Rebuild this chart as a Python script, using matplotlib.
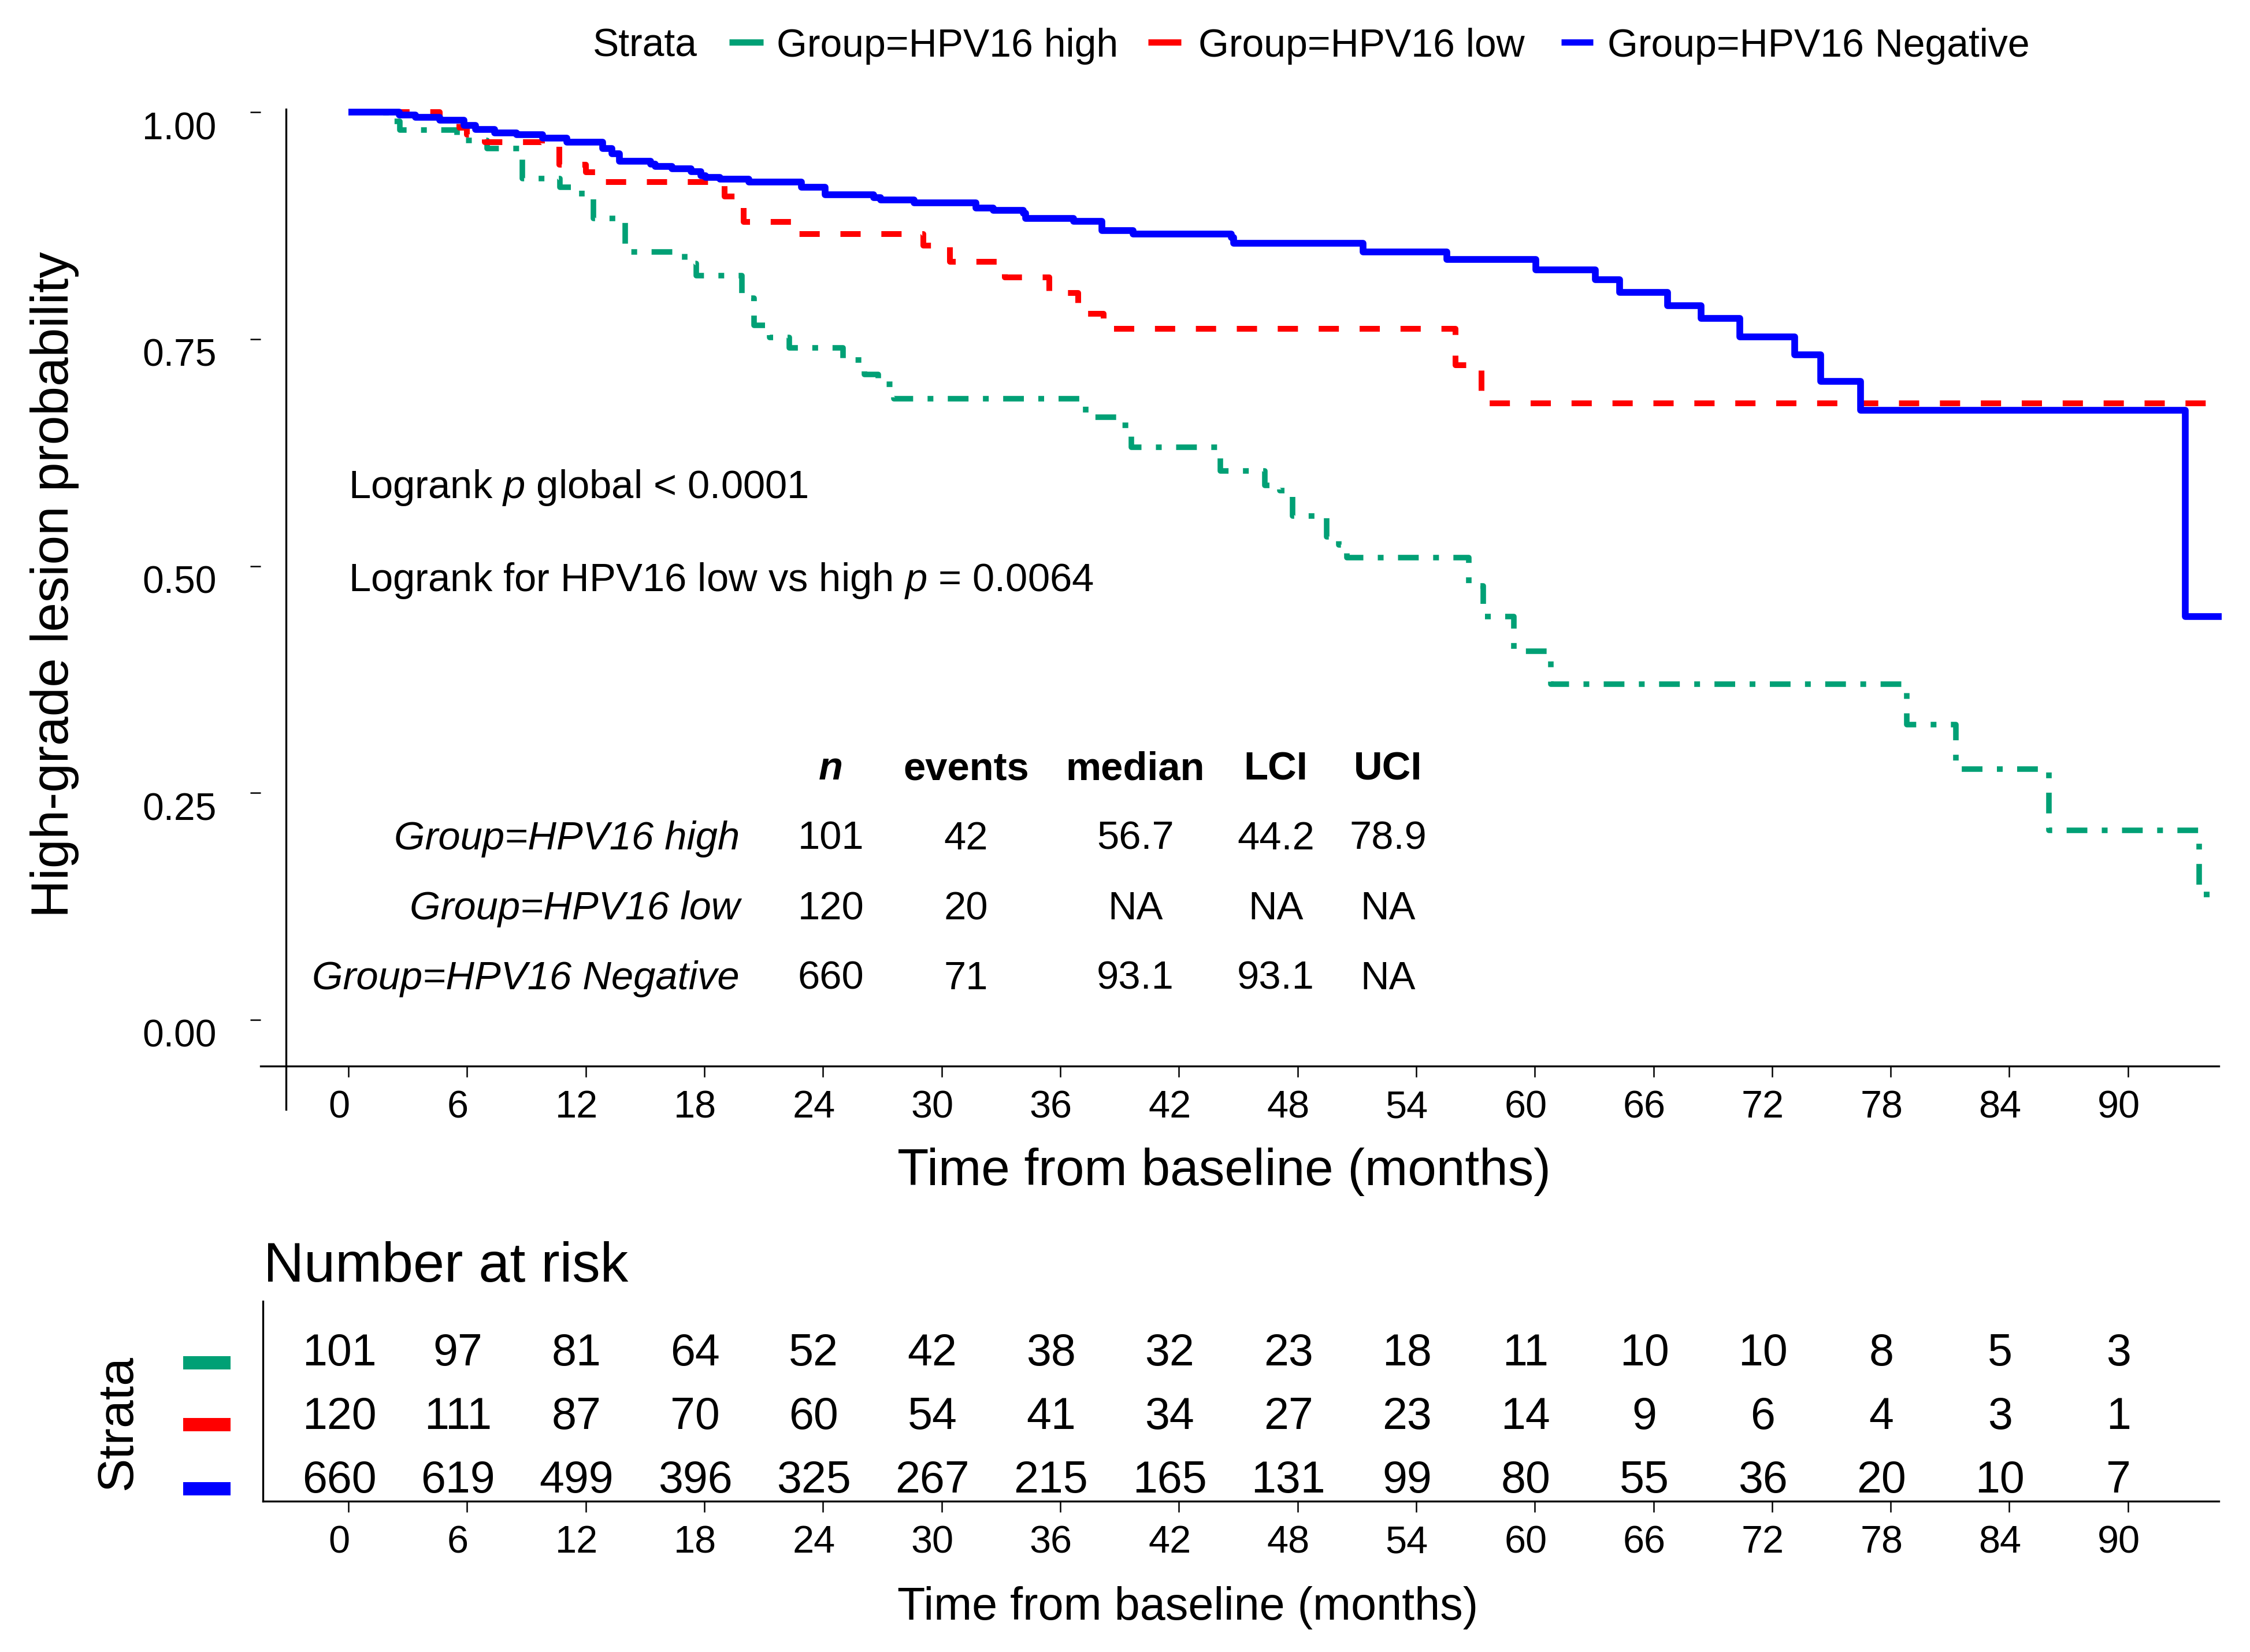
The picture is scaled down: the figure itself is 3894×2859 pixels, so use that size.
import matplotlib
matplotlib.use('Agg')
import matplotlib.pyplot as plt
from matplotlib.transforms import ScaledTranslation
from matplotlib.lines import Line2D
from matplotlib.patches import Rectangle

# ---------------- data ----------------
groups = ['Group=HPV16 high', 'Group=HPV16 low', 'Group=HPV16 Negative']
colors = ['#00A075', '#FF0000', '#0000FF']

high_t = [0, 1.9, 2.6, 5.5, 7.0, 8.8, 10.7, 11.8, 12.4, 14.0, 17.0, 17.6, 19.9, 20.5, 21.3,
          22.3, 25.0, 26.1, 26.8, 27.6, 37.3, 39.0, 39.6, 44.1, 46.35, 47.1, 47.76, 49.46,
          50.1, 50.5, 56.65, 57.4, 58.95, 60.8, 78.8, 81.3, 86.0, 93.6]
high_s = [1.0, 0.990, 0.980, 0.969, 0.960, 0.927, 0.917, 0.904, 0.883, 0.846, 0.833, 0.820,
          0.795, 0.765, 0.752, 0.740, 0.727, 0.711, 0.700, 0.684, 0.664, 0.655, 0.631, 0.605,
          0.589, 0.583, 0.555, 0.532, 0.523, 0.509, 0.478, 0.444, 0.406, 0.370, 0.325, 0.276,
          0.209, 0.138]
high_end = 94.75

low_t = [0, 4.62, 5.6, 6.0, 6.9, 9.8, 10.67, 12.0, 12.86, 19.03, 20.0, 22.43, 29.09, 30.42,
         33.2, 35.45, 36.9, 38.19, 56.0, 57.3]
low_s = [1.0, 0.991, 0.983, 0.975, 0.967, 0.962, 0.942, 0.934, 0.923, 0.907, 0.879, 0.866,
         0.853, 0.835, 0.818, 0.801, 0.778, 0.761, 0.721, 0.679]
low_end = 94.95

neg_t = [0, 2.56, 3.40, 4.62, 5.83, 6.43, 7.40, 8.49, 9.82, 11.04, 12.86, 13.34, 13.70, 15.28,
         15.52, 16.36, 17.34, 17.82, 18.06, 18.79, 20.25, 22.91, 24.12, 26.55, 26.91, 28.60,
         31.75, 32.60, 34.12, 34.24, 36.66, 38.12, 39.69, 44.66, 44.78, 51.32, 55.56, 60.04,
         63.07, 64.28, 66.71, 68.40, 70.37, 73.15, 74.45, 76.49, 92.9]
neg_s = [1.0, 0.9968, 0.9945, 0.9911, 0.9854, 0.9811, 0.9774, 0.9754, 0.9712, 0.9669, 0.9598,
         0.9541, 0.9461, 0.9428, 0.9399, 0.9376, 0.9342, 0.9300, 0.928, 0.9263, 0.9229, 0.9172,
         0.9092, 0.9058, 0.903, 0.9001, 0.8944, 0.8921, 0.8888, 0.8831, 0.8797, 0.8694, 0.866,
         0.8617, 0.8555, 0.8461, 0.8376, 0.8262, 0.8155, 0.8015, 0.787, 0.7728, 0.7527, 0.7326,
         0.7034, 0.6717, 0.4445]
neg_end = 94.75

time_ticks = [0, 6, 12, 18, 24, 30, 36, 42, 48, 54, 60, 66, 72, 78, 84, 90]
prob_ticks = [0.00, 0.25, 0.50, 0.75, 1.00]

risk_high = [101, 97, 81, 64, 52, 42, 38, 32, 23, 18, 11, 10, 10, 8, 5, 3]
risk_low = [120, 111, 87, 70, 60, 54, 41, 34, 27, 23, 14, 9, 6, 4, 3, 1]
risk_neg = [660, 619, 499, 396, 325, 267, 215, 165, 131, 99, 80, 55, 36, 20, 10, 7]

tbl_headers = ['n', 'events', 'median', 'LCI', 'UCI']
tbl_n = [101, 120, 660]
tbl_events = [42, 20, 71]
tbl_median = ['56.7', 'NA', '93.1']
tbl_lci = ['44.2', 'NA', '93.1']
tbl_uci = ['78.9', 'NA', 'NA']

# ---------------- style ----------------
plt.rcParams['font.family'] = ['Liberation Sans', 'DejaVu Sans']
plt.rcParams['mathtext.fontset'] = 'custom'
plt.rcParams['mathtext.rm'] = 'Liberation Sans'
plt.rcParams['mathtext.it'] = 'Liberation Sans:italic'
plt.rcParams['mathtext.bf'] = 'Liberation Sans:bold'
plt.rcParams['lines.scale_dashes'] = False

W, H, DPI = 3895, 2859, 300
fig = plt.figure(figsize=(W / DPI, H / DPI), dpi=DPI)


def fx(px):
    return px / W


def fy(py):
    return 1 - py / H


T0, PXM = 603, 34.22     # pixel of t=0, pixels per month
S0, PXS = 1765, 1571     # pixel of S=0, pixels per unit


def t_of(px):
    return (px - T0) / PXM


def s_of(py):
    return (S0 - py) / PXS


XT_FS = 16.0
YT_FS = 15.8

# ---------------- main KM axes ----------------
L, R, TOP, BOT = 451, 3840, 189, 1845
ax = fig.add_axes([fx(L), fy(BOT), fx(R) - fx(L), fy(TOP) - fy(BOT)])
ax.set_xlim(t_of(L), t_of(R))
ax.set_ylim(s_of(BOT), s_of(TOP))
for sp in ['top', 'right', 'left']:
    ax.spines[sp].set_visible(False)
ax.spines['bottom'].set_linewidth(0.8)

styles = [
    dict(lw=2.3, linestyle=(0, (8.6, 6.0, 2.4, 6.0))),
    dict(lw=2.4, linestyle=(0, (8.4, 8.6))),
    dict(lw=2.8, linestyle='-'),
]
curves = [(high_t, high_s, high_end), (low_t, low_s, low_end), (neg_t, neg_s, neg_end)]
for (tt, ss, te), c, st in zip(curves, colors, styles):
    ax.step(list(tt) + [te], list(ss) + [ss[-1]], where='post', color=c,
            clip_on=False, solid_capstyle='butt', dash_capstyle='butt', **st)

# detached y axis line
ax.axvline(t_of(495), ymin=(BOT - 1920) / (BOT - TOP), ymax=1.0, color='black', lw=0.8,
           clip_on=False)

ax.set_xticks(time_ticks)
ax.set_xticklabels([str(v) for v in time_ticks])
ax.set_yticks(prob_ticks)
ax.set_yticklabels([f'{v:.2f}' for v in prob_ticks])
ax.tick_params(axis='x', direction='out', length=4.6, width=0.6, pad=5.3, labelsize=XT_FS)
ax.tick_params(axis='y', direction='out', length=4.3, width=0.6, pad=14, labelsize=YT_FS)

xoff = ScaledTranslation(-16 / DPI, 0, fig.dpi_scale_trans)
yoff = ScaledTranslation(0, -23 / DPI, fig.dpi_scale_trans)
for tk in ax.xaxis.get_major_ticks():
    tk.label1.set_transform(tk.label1.get_transform() + xoff)
for tk in ax.yaxis.get_major_ticks():
    tk.label1.set_transform(tk.label1.get_transform() + yoff)

# annotations inside
ax_fs = 16.5
fig.text(fx(603), fy(862), 'Logrank $p$ global < 0.0001', fontsize=ax_fs, va='baseline')
fig.text(fx(603), fy(1023), 'Logrank for HPV16 low vs high $p$ = 0.0064', fontsize=ax_fs,
         va='baseline')

col_x = [1438, 1672, 1965, 2208, 2402]
hdr_base = 1349
row_base = [1470, 1591, 1712]
for i, h in enumerate(tbl_headers):
    fig.text(fx(col_x[i]), fy(hdr_base), h, fontsize=ax_fs, fontweight='bold',
             fontstyle='italic' if h == 'n' else 'normal', ha='center', va='baseline')
for r in range(3):
    fig.text(fx(1280), fy(row_base[r]), groups[r], fontsize=ax_fs, fontstyle='italic',
             ha='right', va='baseline')
    vals = [str(tbl_n[r]), str(tbl_events[r]), tbl_median[r], tbl_lci[r], tbl_uci[r]]
    for i, v in enumerate(vals):
        fig.text(fx(col_x[i]), fy(row_base[r]), v, fontsize=ax_fs, ha='center', va='baseline')

# axis titles
fig.text(fx(2118), fy(2028), 'Time from baseline (months)', fontsize=21.4, ha='center',
         va='center')
fig.text(fx(95), fy(1012), 'High-grade lesion probability', fontsize=21.8, ha='center',
         va='center', rotation=90)

# legend on top
leg_fs = 16.3
leg_base = 98
fig.text(fx(1026), fy(leg_base), 'Strata', fontsize=leg_fs, va='baseline')
key_x = [(1262, 1321), (1987, 2044), (2702, 2757)]
txt_x = [1344, 2074, 2782]
for g, c, (k0, k1), tx in zip(groups, colors, key_x, txt_x):
    fig.add_artist(Line2D([fx(k0), fx(k1)], [fy(73), fy(73)], transform=fig.transFigure,
                          color=c, lw=2.6, solid_capstyle='butt'))
    fig.text(fx(tx), fy(leg_base), g, fontsize=leg_fs, va='baseline')

# ---------------- risk table ----------------
L2, R2, TOP2, BOT2 = 455, 3840, 2252, 2598
RB0, RSP = 2583, 110
ax2 = fig.add_axes([fx(L2), fy(BOT2), fx(R2) - fx(L2), fy(TOP2) - fy(BOT2)])
ax2.set_xlim(t_of(L2), t_of(R2))
ax2.set_ylim((RB0 - BOT2) / RSP, (RB0 - TOP2) / RSP)
for sp in ['top', 'right']:
    ax2.spines[sp].set_visible(False)
ax2.spines['bottom'].set_linewidth(0.8)
ax2.spines['left'].set_linewidth(0.8)
ax2.set_yticks([])
ax2.set_xticks(time_ticks)
ax2.set_xticklabels([str(v) for v in time_ticks])
ax2.tick_params(axis='x', direction='out', length=4.6, width=0.6, pad=5.3, labelsize=XT_FS)
for tk in ax2.xaxis.get_major_ticks():
    tk.label1.set_transform(tk.label1.get_transform() + xoff)

risk_rows = [risk_high, risk_low, risk_neg]
row_vals = [2, 1, 0]
for rv, counts in zip(row_vals, risk_rows):
    for t, n in zip(time_ticks, counts):
        ax2.text(t, rv, str(n), fontsize=18.5, ha='center', va='baseline',
                 transform=ax2.transData + xoff)

fig.text(fx(456), fy(2218), 'Number at risk', fontsize=23.3, va='baseline')
fig.text(fx(2056), fy(2782), 'Time from baseline (months)', fontsize=19, ha='center',
         va='center')
fig.text(fx(205), fy(2462), 'Strata', fontsize=21, rotation=90, ha='center', va='center')
for yc, c in zip([2358.5, 2465.5, 2576.5], colors):
    fig.add_artist(Rectangle((fx(317), fy(yc + 11.5)), fx(399) - fx(317), 23 / H,
                             transform=fig.transFigure, color=c, lw=0))

fig.savefig('out.png', dpi=DPI)
